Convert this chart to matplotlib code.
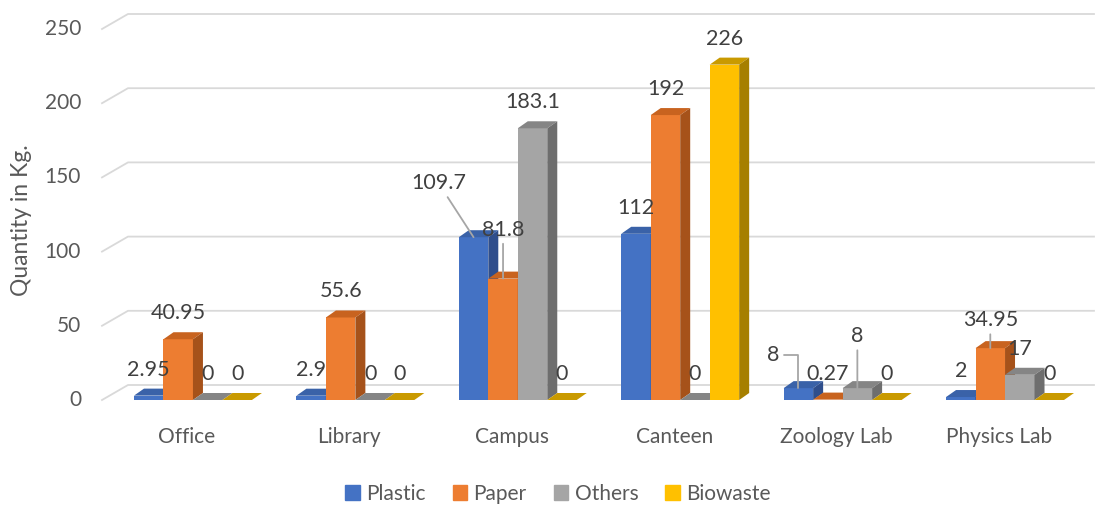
import matplotlib
matplotlib.use('Agg')
import matplotlib.pyplot as plt
from matplotlib.patches import Polygon, Patch
import numpy as np

categories = ['Office', 'Library', 'Campus', 'Canteen', 'Zoology Lab', 'Physics Lab']
series = ['Plastic', 'Paper', 'Others', 'Biowaste']
plastic = [2.95, 2.9, 109.7, 112, 8, 2]
paper = [40.95, 55.6, 81.8, 192, 0.27, 34.95]
others = [0, 0, 183.1, 0, 8, 17]
biowaste = [0, 0, 0, 226, 0, 0]
yticks = [0, 50, 100, 150, 200, 250]

colors = ['#4472C4', '#ED7D31', '#A5A5A5', '#FFC000']
top_colors = ['#3A62A8', '#C8631F', '#858585', '#C99A00']
side_colors = ['#2F4E8C', '#A6521A', '#6E6E6E', '#A67F00']

plt.rcParams['font.family'] = ['Lato', 'DejaVu Sans']

W, H = 1097, 505
fig = plt.figure(figsize=(W / 100, H / 100), dpi=100)
# front plane of the plot: x 102..1068 px, y 400 (0) .. 29 (250) px
ax = fig.add_axes([102 / W, (H - 400) / H, (1068 - 102) / W, 371 / H])
ax.axis('off')

px_x = 1 / 162.5          # category units per pixel
px_y = 250 / 371          # data units per pixel
xmin, xmax = -91 * px_x, 5 + 63 * px_x
ax.set_xlim(xmin, xmax)
ax.set_ylim(0, 250)

w = 29.5 * px_x
bdx, bdy = 10 * px_x, 7 * px_y      # bar depth
wdx, wdy = 26 * px_x, 15 * px_y     # wall depth

grid_c = '#d9d9d9'
for t in yticks:
    ax.plot([xmin, xmin + wdx, xmax + wdx], [t, t + wdy, t + wdy],
            color=grid_c, lw=1.3, clip_on=False, zorder=1)
    ax.text(xmin - 21 * px_x, t, str(t), ha='right', va='center',
            fontsize=15, color='#595959')

# label tweaks (pixel shift x, pixel shift up, leader style)
tweaks = {
    (2, 0): (-35, 28, 'arc3'),
    (2, 1): (0, 23, 'arc3'),
    (4, 0): (-25, 7, 'angle,angleA=0,angleB=90,rad=0'),
    (4, 2): (0, 26, 'arc3'),
    (5, 1): (0, 2, 'arc3'),
}

data = [plastic, paper, others, biowaste]
z = 2
for i, cat in enumerate(categories):
    for k, vals in enumerate(data):
        h = vals[i]
        x0 = i - 2 * w + k * w
        ax.bar(x0, h, w, align='edge', color=colors[k], lw=0, zorder=z)
        top = Polygon([(x0, h), (x0 + w, h), (x0 + w + bdx, h + bdy), (x0 + bdx, h + bdy)],
                      closed=True, color=top_colors[k], lw=0, zorder=z, clip_on=False)
        side = Polygon([(x0 + w, 0), (x0 + w + bdx, bdy), (x0 + w + bdx, h + bdy), (x0 + w, h)],
                       closed=True, color=side_colors[k], lw=0, zorder=z, clip_on=False)
        ax.add_patch(top)
        ax.add_patch(side)
        z += 1

        sx, sy, conn = tweaks.get((i, k), (0, 0, None))
        kw = {}
        if conn is not None:
            kw['arrowprops'] = dict(arrowstyle='-', color='#a6a6a6', lw=1.3,
                                    shrinkA=1, shrinkB=0, connectionstyle=conn)
        ax.annotate(f'{h:g}', xy=(x0 + w / 2, h),
                    xytext=(sx * 0.72, (26 + sy) * 0.72), textcoords='offset points',
                    ha='center', va='center', fontsize=15.5, color='#404040',
                    zorder=50, annotation_clip=False, **kw)

    ax.text(i - 6 * px_x, -37 * px_y, cat, ha='center', va='center',
            fontsize=15, color='#595959')

fig.text(22 / W, 1 - 220 / H, 'Quantity in Kg.', rotation=90, ha='center', va='center',
         fontsize=16.5, color='#595959')

handles = [Patch(color=c, label=s) for c, s in zip(colors, series)]
fig.legend(handles=handles, loc='center', bbox_to_anchor=(558 / W, 1 - 494 / H), ncol=4,
           frameon=False, handlelength=0.7, handleheight=0.7, handletextpad=0.3,
           columnspacing=1.3, fontsize=15, labelcolor='#595959')

fig.savefig('out.png', dpi=100)
